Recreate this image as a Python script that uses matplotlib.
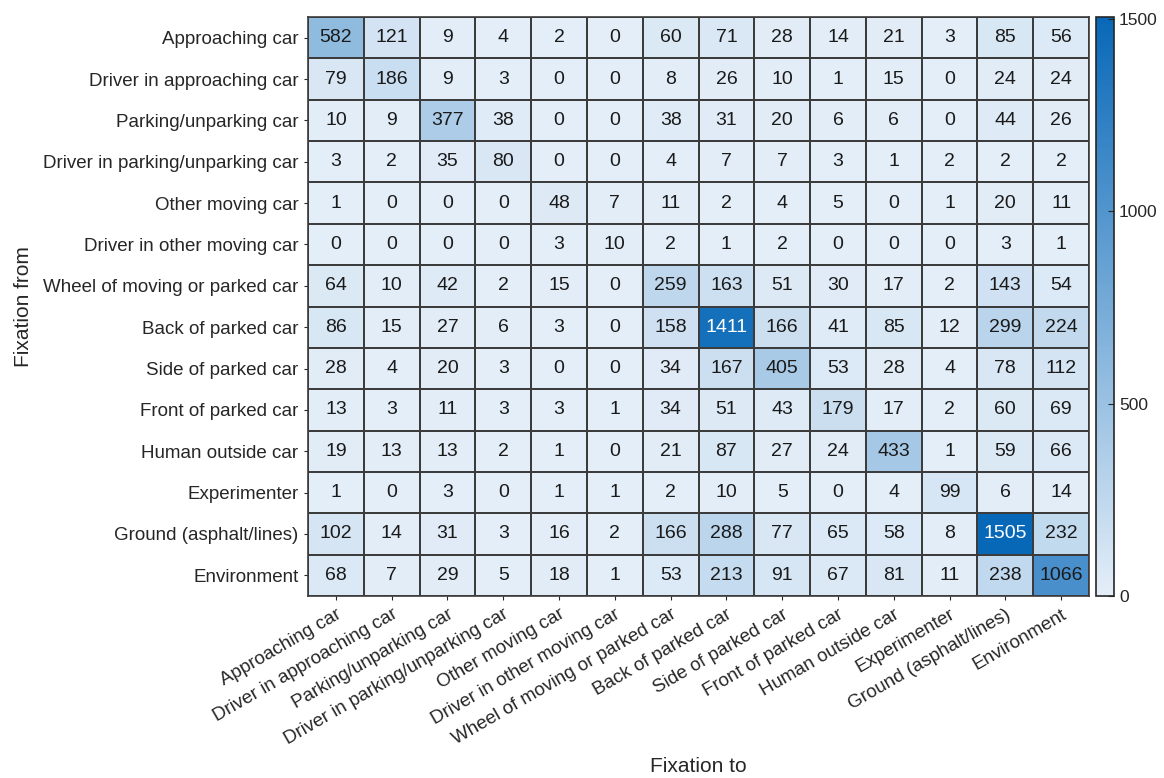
import numpy as np
import matplotlib
matplotlib.use("Agg")
import matplotlib.pyplot as plt
from matplotlib.colors import LinearSegmentedColormap

plt.rcParams["font.family"] = ["Liberation Sans", "DejaVu Sans"]

categories = [
    "Approaching car",
    "Driver in approaching car",
    "Parking/unparking car",
    "Driver in parking/unparking car",
    "Other moving car",
    "Driver in other moving car",
    "Wheel of moving or parked car",
    "Back of parked car",
    "Side of parked car",
    "Front of parked car",
    "Human outside car",
    "Experimenter",
    "Ground (asphalt/lines)",
    "Environment",
]

# rows: fixation from, columns: fixation to
counts = np.array([
    [582, 121, 9, 4, 2, 0, 60, 71, 28, 14, 21, 3, 85, 56],
    [79, 186, 9, 3, 0, 0, 8, 26, 10, 1, 15, 0, 24, 24],
    [10, 9, 377, 38, 0, 0, 38, 31, 20, 6, 6, 0, 44, 26],
    [3, 2, 35, 80, 0, 0, 4, 7, 7, 3, 1, 2, 2, 2],
    [1, 0, 0, 0, 48, 7, 11, 2, 4, 5, 0, 1, 20, 11],
    [0, 0, 0, 0, 3, 10, 2, 1, 2, 0, 0, 0, 3, 1],
    [64, 10, 42, 2, 15, 0, 259, 163, 51, 30, 17, 2, 143, 54],
    [86, 15, 27, 6, 3, 0, 158, 1411, 166, 41, 85, 12, 299, 224],
    [28, 4, 20, 3, 0, 0, 34, 167, 405, 53, 28, 4, 78, 112],
    [13, 3, 11, 3, 3, 1, 34, 51, 43, 179, 17, 2, 60, 69],
    [19, 13, 13, 2, 1, 0, 21, 87, 27, 24, 433, 1, 59, 66],
    [1, 0, 3, 0, 1, 1, 2, 10, 5, 0, 4, 99, 6, 14],
    [102, 14, 31, 3, 16, 2, 166, 288, 77, 65, 58, 8, 1505, 232],
    [68, 7, 29, 5, 18, 1, 53, 213, 91, 67, 81, 11, 238, 1066],
])

cbar_ticks = [0, 500, 1000, 1500]

cmap = LinearSegmentedColormap.from_list("blues", ["#E4EEF8", "#0868B8"])
vmax = counts.max()

fig = plt.figure(figsize=(11.64, 7.78), dpi=100)
ax = fig.add_axes([0.2646, 0.2339, 0.6710, 0.7442])
cax = fig.add_axes([0.9416, 0.2339, 0.0155, 0.7442])

n = len(categories)
mesh = ax.pcolormesh(np.arange(n + 1), np.arange(n + 1), counts, cmap=cmap,
                     vmin=0, vmax=vmax, edgecolors="#3c3c3c", linewidth=1.2)
ax.set_xlim(0, n)
ax.set_ylim(n, 0)

for i in range(n):
    for j in range(n):
        v = counts[i, j]
        color = "white" if v > 1200 else "#1a1a1a"
        ax.text(j + 0.5, i + 0.5, str(v), ha="center", va="center",
                fontsize=14, color=color)

ax.set_xticks(np.arange(n) + 0.5)
ax.set_yticks(np.arange(n) + 0.5)
ax.set_xticklabels(categories, rotation=30, ha="right", rotation_mode="anchor",
                   fontsize=13.5, color="#262626")
ax.set_yticklabels(categories, fontsize=13.5, color="#262626")
ax.tick_params(axis="both", length=3, width=0.8, color="#262626", pad=4)
for s in ax.spines.values():
    s.set_color("#3c3c3c")
    s.set_linewidth(1.2)

ax.set_xlabel("Fixation to", fontsize=15, color="#262626")
ax.set_ylabel("Fixation from", fontsize=15, color="#262626")
ax.xaxis.set_label_coords(0.5, -0.278)
ax.yaxis.set_label_coords(-0.352, 0.5)

cb = fig.colorbar(mesh, cax=cax, ticks=cbar_ticks)
cb.ax.tick_params(labelsize=12.5, length=4, width=0.8, direction="in",
                  colors="#262626")
cb.outline.set_edgecolor("#262626")
cb.outline.set_linewidth(1.2)

fig.savefig("out.png", dpi=100)
